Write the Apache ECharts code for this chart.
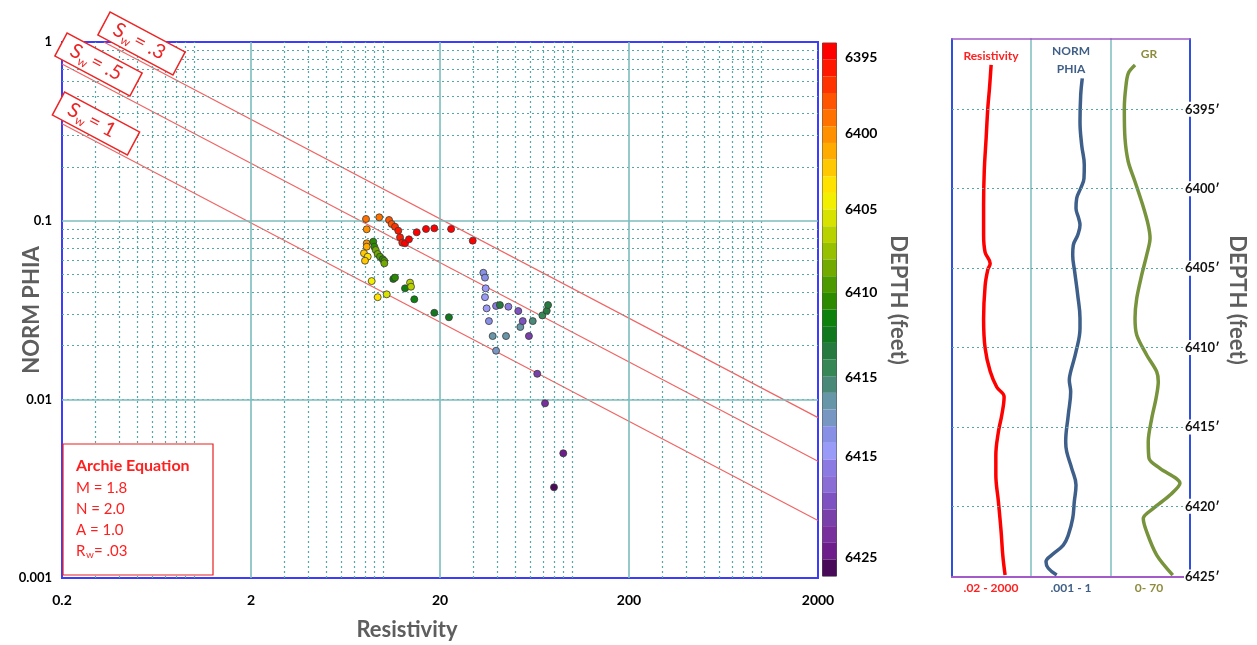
<!DOCTYPE html>
<html><head><meta charset="utf-8">
<script src="https://cdn.jsdelivr.net/npm/echarts@6/dist/echarts.min.js"></script>
<style>html,body{margin:0;padding:0;background:#fff}#c{width:1257px;height:645px}</style>
</head><body><div id="c"></div>
<script>
// ---------------- DATA ----------------
const xTickLabels = ['0.2', '2', '20', '200', '2000'];
const yTickLabels = ['0.001', '0.01', '0.1', '1'];
const xMajorGrid = [2, 20, 200];
const xMinorGrid = [0.3,0.4,0.5,0.6,0.7,0.8,0.9,1, 3,4,5,6,7,8,9,10, 30,40,50,60,70,80,90,100, 300,400,500,600,700,800,900,1000];
const yMajorGrid = [0.01, 0.1];
const yMinorGrid = [0.002,0.003,0.004,0.005,0.006,0.007,0.008,0.009, 0.02,0.03,0.04,0.05,0.06,0.07,0.08,0.09, 0.2,0.3,0.4,0.5,0.6,0.7,0.8,0.9];

// crossplot points (resistivity, norm phia, depth)
const crossRes = [8.12,9.54,10.75,11.1,11.56,12.03,8.19,12.29,12.63,13.06,13.7,15.06,16.87,18.66,22.9,29.8,
  8.19,8.19,8.87,8.98,9.14,9.36,9.63,9.95,10.15,10.15,7.92,8.29,8.02,8.70,9.36,10.45,11.32,11.56,13.06,13.88,14.05,14.62,18.66,22.3,
  33.9,34.6,34.9,34.6,35.3,39.6,41.5,46.0,51.9,36.3,38.0,44.7,39.6,53.2,54.8,59.1,61.9,69.6,73.4,74.6,65.4,71.9,89.8,80.2];
const crossPhia = [0.1022,0.1044,0.1009,0.0958,0.0925,0.0879,0.0895,0.0807,0.0753,0.0747,0.0786,0.0861,0.0898,0.0906,0.0898,0.0773,
  0.0747,0.0715,0.0763,0.0715,0.0685,0.0651,0.0629,0.0608,0.0595,0.0577,0.0657,0.0629,0.0597,0.0459,0.0373,0.0387,0.0472,0.0480,0.0418,0.0450,0.0427,0.0363,0.0305,0.0288,
  0.0511,0.0480,0.0418,0.0373,0.0323,0.0333,0.0337,0.0330,0.0312,0.0274,0.0226,0.0226,0.0187,0.0254,0.0274,0.0226,0.0274,0.0295,0.0313,0.0337,0.0139,0.0095,0.00499,0.00322];
const crossDepth = [6398.5,6398.5,6397.5,6397.5,6396.5,6395.5,6399.5,6395.5,6395.5,6394.5,6394.5,6394.5,6394.5,6394.5,6394.5,6394.5,
  6399.5,6400.5,6409.5,6409.5,6407.5,6407.5,6408.5,6409.5,6408.5,6407.5,6401.5,6402.5,6401.5,6403.5,6402.5,6404.5,6410.5,6409.5,6410.5,6405.5,6405.5,6410.5,6411.5,6411.5,
  6417.5,6417.5,6418.5,6418.5,6418.5,6419.5,6412.5,6419.5,6421.5,6417.5,6415.5,6415.5,6416.5,6415.5,6421.5,6422.5,6414.5,6413.5,6412.5,6412.5,6422.5,6423.5,6424.5,6425.5];

// Sw lines (end points)
const swNames = ['.3', '.5', '1'];
const swStartRes = [0.333, 0.2, 0.2];
const swStartPhia = [1, 0.753, 0.349];
const swEndRes = [2000, 2000, 2000];
const swEndPhia = [0.0079, 0.0045, 0.0021];

// depth colour bar
const depthMin = 6394, depthMax = 6426;
const depthBarColors = ['#ff0000','#ff1800','#ff3300','#ff5500','#ff7200','#ff9000','#ffab00','#ffc800','#ffe200','#f2f000','#d8e200','#b8d200','#96c000','#72aa00','#4c9a00','#2c8a00',
  '#0e800c','#12781e','#267a40','#368656','#4a8878','#6696a8','#7896c2','#8890e6','#9a9af8','#8a7ae2','#8a6ed6','#7f52c2','#7a40aa','#78309c','#6e1e8a','#4a0a5a'];
const depthBarLabels = ['6395', '6400', '6405', '6410', '6415', '6415', '6425'];

const archieLines = ['M = 1.8', 'N = 2.0', 'A = 1.0'];

// log tracks
const logResDepth = [6392.2,6393.7,6394.9,6396.8,6398.9,6401.0,6402.9,6404.0,6404.7,6405.1,6406.1,6408.2,6410.05,6411.5,6412.5,6413.1,6414.25,6415.3,6416.8,6418.0,6419.7,6421.6,6423.1,6424.33];
const logRes = [6.0,4.7,3.7,2.9,2.2,2.0,2.0,2.5,5.2,3.7,2.5,2.0,2.5,5.2,13.8,39.7,28.4,17.3,11.9,11.9,17.3,25.7,32.9,45.9];
const logPhiaDepth = [6393.05,6394.1,6395.78,6397.25,6398.51,6399.35,6399.97,6400.6,6401.23,6401.86,6402.29,6402.92,6403.55,6404.18,6405.23,6406.69,6408.16,6408.79,6410.26,6411.52,6412.05,6412.78,6414.25,6415.93,6416.56,6417.61,6418.66,6419.71,6420.76,6421.81,6422.44,6423.07,6423.49,6423.9,6424.33];
const logPhia = [0.0838,0.0730,0.0688,0.0796,0.0997,0.0971,0.0730,0.0517,0.0487,0.0614,0.0688,0.0564,0.0386,0.0366,0.0435,0.0564,0.0688,0.0688,0.0487,0.0308,0.0273,0.0308,0.0250,0.0200,0.0218,0.0336,0.0487,0.0420,0.0366,0.0250,0.0163,0.0060,0.00365,0.00445,0.0092];
const logGrDepth = [6392.21,6392.73,6393.68,6394.94,6396.83,6398.3,6399.56,6401.03,6402.29,6403.12,6404.18,6405.43,6406.9,6408.16,6409.21,6410.47,6411.52,6412.15,6413.2,6414.46,6415.93,6416.98,6417.61,6418.55,6419.29,6420.13,6420.76,6421.6,6423.07,6424.33];
const logGr = [21.3,15.3,13.0,11.8,12.4,15.3,21.3,28.1,33.0,34.6,31.6,27.2,22.8,21.3,22.8,31.6,40.5,41.9,39.9,36.1,33.0,33.7,43.4,61.1,52.3,37.5,28.6,31.6,40.5,54.7];
const trackTop = 6390.57, trackBottom = 6424.45;
const trackDepthTicks = [6395, 6400, 6405, 6410, 6415, 6420, 6425];
const trackDepthLabels = ['6395\u2032', '6400\u2032', '6405\u2032', '6410\u2032', '6415\u2032', '6420\u2032', '6425\u2032'];
const trackHeads = [['Resistivity'], ['NORM', 'PHIA'], ['GR']];
const trackRanges = ['.02 - 2000', '.001 - 1', '0- 70'];

// ---------------- CHART ----------------
const FONT = 'Lato';
const RED = '#ff1f1f';
const TEAL_SOLID = '#7cbcbc';
const TEAL_DOT = '#56a8a8';
const PURPLE = '#a35bc9';
const BLUE = '#3c3cff';

const chart = echarts.init(document.getElementById('c'));

const minorStyle = { color: TEAL_DOT, width: 1.2, type: [2, 3] };
const majorStyle = { color: TEAL_SOLID, width: 1.6, type: 'solid' };
const gridLineData = [].concat(
  xMinorGrid.map(v => ({ xAxis: v, lineStyle: minorStyle })),
  yMinorGrid.map(v => ({ yAxis: v, lineStyle: minorStyle })),
  xMajorGrid.map(v => ({ xAxis: v, lineStyle: majorStyle })),
  yMajorGrid.map(v => ({ yAxis: v, lineStyle: majorStyle }))
);

function trackMarkLine(withLabels) {
  const data = trackDepthTicks.map((v, i) => {
    const atEdge = v > trackBottom;
    const item = {
      yAxis: atEdge ? trackBottom : v,
      lineStyle: atEdge ? { color: PURPLE, width: 1.5, type: 'solid', opacity: withLabels ? 1 : 0 }
                        : { color: TEAL_DOT, width: 1.2, type: [2, 3] }
    };
    item.label = withLabels ? { show: true, formatter: trackDepthLabels[i] } : { show: false };
    return item;
  });
  return {
    silent: true, symbol: ['none', 'none'], animation: false,
    label: {
      show: withLabels, position: 'end', distance: -6,
      fontFamily: FONT, fontWeight: 'bold', fontSize: 13, color: '#111',
      backgroundColor: '#fff', padding: [1, 1, 1, 1]
    },
    data: data
  };
}

function hiddenAxisParts() {
  return { axisTick: { show: false }, axisLabel: { show: false }, splitLine: { show: false } };
}

const xAxes = [
  Object.assign({ gridIndex: 0, type: 'log', logBase: 10, min: 0.2, max: 2000, axisLine: { show: false } }, hiddenAxisParts()),
  { gridIndex: 0, type: 'value', min: 0, max: 4, interval: 1, position: 'bottom',
    axisLine: { show: false, onZero: false }, axisTick: { show: false }, splitLine: { show: false },
    axisLabel: { formatter: v => xTickLabels[Math.round(v)], fontFamily: FONT, fontWeight: 'bold', fontSize: 14, color: '#000', margin: 15 } },
  Object.assign({ gridIndex: 1, type: 'log', logBase: 10, min: 0.02, max: 2000, position: 'bottom', axisLine: { show: true, onZero: false, lineStyle: { color: PURPLE, width: 2 } } }, hiddenAxisParts()),
  Object.assign({ gridIndex: 2, type: 'log', logBase: 10, min: 0.001, max: 1, position: 'bottom', axisLine: { show: true, onZero: false, lineStyle: { color: PURPLE, width: 2 } } }, hiddenAxisParts()),
  Object.assign({ gridIndex: 3, type: 'value', min: 0, max: 70, position: 'bottom', axisLine: { show: true, onZero: false, lineStyle: { color: PURPLE, width: 2 } } }, hiddenAxisParts())
];
[1, 2, 3].forEach(g => xAxes.push(Object.assign({ gridIndex: g, type: 'value', min: 0, max: 1, position: 'top',
  axisLine: { show: true, onZero: false, lineStyle: { color: PURPLE, width: 1.5 } } }, hiddenAxisParts())));

function trackY(g, pos, color, w) {
  return Object.assign({ gridIndex: g, type: 'value', inverse: true, min: trackTop, max: trackBottom, position: pos,
    axisLine: { show: true, onZero: false, lineStyle: { color: color, width: w } } }, hiddenAxisParts());
}
const yAxes = [
  { gridIndex: 0, type: 'log', logBase: 10, min: 0.001, max: 1,
    axisLine: { show: false }, axisTick: { show: false }, splitLine: { show: false },
    axisLabel: { formatter: v => yTickLabels[Math.round(Math.log10(v)) + 3], fontFamily: FONT, fontWeight: 'bold', fontSize: 13, color: '#000', margin: 10 } },
  trackY(1, 'left', '#2f4fe0', 2),
  trackY(2, 'left', TEAL_SOLID, 1.5),
  trackY(3, 'left', TEAL_SOLID, 1.5),
  trackY(3, 'right', '#2f4fe0', 2)
];

const series = [
  { name: 'grid', type: 'line', xAxisIndex: 0, yAxisIndex: 0, data: [], z: 1, silent: true,
    markLine: { silent: true, symbol: ['none', 'none'], label: { show: false }, animation: false, data: gridLineData } }
];
swNames.forEach((n, i) => series.push({
  name: 'Sw = ' + n, type: 'line', xAxisIndex: 0, yAxisIndex: 0, z: 3, silent: true,
  symbol: 'none', lineStyle: { color: '#f06464', width: 1.2 },
  data: [[swStartRes[i], swStartPhia[i]], [swEndRes[i], swEndPhia[i]]]
}));
series.push({
  name: 'points', type: 'scatter', xAxisIndex: 0, yAxisIndex: 0, z: 5, symbolSize: 7,
  itemStyle: { borderColor: '#3a3a3a', borderWidth: 0.8, opacity: 1 },
  data: crossRes.map((r, i) => [r, crossPhia[i], crossDepth[i]])
});
const scatterIndex = series.length - 1;
series.push({ name: 'Resistivity log', type: 'line', xAxisIndex: 2, yAxisIndex: 1, symbol: 'none', smooth: 0.4,
  lineStyle: { color: '#ff0000', width: 3.5 }, data: logRes.map((v, i) => [v, logResDepth[i]]), markLine: trackMarkLine(false) });
series.push({ name: 'NORM PHIA log', type: 'line', xAxisIndex: 3, yAxisIndex: 2, symbol: 'none', smooth: 0.4,
  lineStyle: { color: '#3d5f8a', width: 3.5 }, data: logPhia.map((v, i) => [v, logPhiaDepth[i]]), markLine: trackMarkLine(false) });
series.push({ name: 'GR log', type: 'line', xAxisIndex: 4, yAxisIndex: 3, symbol: 'none', smooth: 0.3,
  lineStyle: { color: '#77933c', width: 3.5 }, data: logGr.map((v, i) => [v, logGrDepth[i]]), markLine: trackMarkLine(true) });

// --------- graphics (annotations / titles) ---------
const SWRED = '#ee2424';
function swBox(cx, cy, name) {
  return { type: 'group', x: cx, y: cy, rotation: -28 * Math.PI / 180, z: 100, children: [
    { type: 'rect', z: 100, shape: { x: -42.5, y: -13, width: 85, height: 26 }, style: { fill: '#fff', stroke: SWRED, lineWidth: 1.5 } },
    { type: 'text', z: 101, x: -31, y: -1, style: { text: 'S', align: 'left', verticalAlign: 'middle', fontSize: 20, fontFamily: FONT, fill: SWRED } },
    { type: 'text', z: 101, x: -20, y: 6, style: { text: 'w', align: 'left', verticalAlign: 'middle', fontSize: 12, fontFamily: FONT, fill: SWRED } },
    { type: 'text', z: 101, x: -8, y: -1, style: { text: '= ' + name, align: 'left', verticalAlign: 'middle', fontSize: 20, fontFamily: FONT, fill: SWRED } }
  ] };
}
function txt(x, y, text, o) {
  return Object.assign({ type: 'text', x: x, y: y, z: 100, style: Object.assign({ text: text, align: 'center', verticalAlign: 'middle',
    fontFamily: FONT, fontWeight: 'bold', fontSize: 14, fill: '#000' }, o.style || {}) }, o.el || {});
}
const graphics = [
  swBox(141.5, 43.5, swNames[0]), swBox(98.5, 64.5, swNames[1]), swBox(96, 123.5, swNames[2]),
  { type: 'rect', z: 100, shape: { x: 63, y: 444, width: 150, height: 131 }, style: { fill: '#fff', stroke: '#e82020', lineWidth: 1.2 } },
  txt(76, 466, 'Archie Equation', { style: { align: 'left', fill: RED, fontSize: 16 } })
];
archieLines.forEach((t, i) => graphics.push(txt(76, 488 + i * 21, t, { style: { align: 'left', fill: RED, fontSize: 15, fontWeight: 'normal' } })));
graphics.push(txt(76, 551, 'R', { style: { align: 'left', fill: RED, fontSize: 15, fontWeight: 'normal' } }));
graphics.push(txt(86, 555, 'w', { style: { align: 'left', fill: RED, fontSize: 10, fontWeight: 'normal' } }));
graphics.push(txt(94, 551, '= .03', { style: { align: 'left', fill: RED, fontSize: 15, fontWeight: 'normal' } }));
const barLabelY = [57, 133, 209, 292, 377, 456, 557];
depthBarLabels.forEach((t, i) => graphics.push(txt(845, barLabelY[i], t, { style: { align: 'left', fontSize: 14 } })));
graphics.push(txt(898, 300, 'DEPTH (feet)', { style: { fontSize: 22, fill: '#5e5e5e' }, el: { rotation: -Math.PI / 2 } }));
graphics.push(txt(1237, 300, 'DEPTH (feet)', { style: { fontSize: 22, fill: '#5e5e5e' }, el: { rotation: -Math.PI / 2 } }));
graphics.push(txt(32, 310, 'NORM PHIA', { style: { fontSize: 22, fill: '#5e5e5e' }, el: { rotation: Math.PI / 2 } }));
graphics.push(txt(407, 630, 'Resistivity', { style: { fontSize: 22, fill: '#5e5e5e' } }));
const headColors = ['#ff2020', '#3f5f86', '#8c8c3c'];
const trackCenters = [991, 1071, 1149];
graphics.push(txt(trackCenters[0], 56, trackHeads[0][0], { style: { fontSize: 12, fill: headColors[0] } }));
graphics.push(txt(trackCenters[1], 51, trackHeads[1][0], { style: { fontSize: 12, fill: headColors[1] } }));
graphics.push(txt(trackCenters[1], 69, trackHeads[1][1], { style: { fontSize: 12, fill: headColors[1] } }));
graphics.push(txt(trackCenters[2], 54, trackHeads[2][0], { style: { fontSize: 12, fill: headColors[2] } }));
trackRanges.forEach((t, i) => graphics.push(txt(trackCenters[i], 588, t, { style: { fontSize: 12, fill: headColors[i] } })));

chart.setOption({
  animation: false,
  backgroundColor: '#fff',
  textStyle: { fontFamily: FONT },
  grid: [
    { left: 62, top: 42, width: 756, height: 536, show: true, borderColor: BLUE, borderWidth: 2, backgroundColor: '#fff' },
    { left: 952, top: 39, width: 79, height: 538 },
    { left: 1031, top: 39, width: 80, height: 538 },
    { left: 1111, top: 39, width: 79, height: 538 }
  ],
  xAxis: xAxes,
  yAxis: yAxes,
  visualMap: {
    type: 'piecewise', seriesIndex: scatterIndex, dimension: 2,
    min: depthMin, max: depthMax, splitNumber: depthBarColors.length,
    inverse: true, orient: 'vertical', left: 822, top: 42.5,
    itemWidth: 14, itemHeight: 16.66, itemGap: 0, itemSymbol: 'rect',
    showLabel: false, padding: 0, borderColor: '#555', borderWidth: 1,
    hoverLink: false, selectedMode: false,
    inRange: { color: depthBarColors }
  },
  series: series,
  graphic: graphics
});
</script></body></html>
